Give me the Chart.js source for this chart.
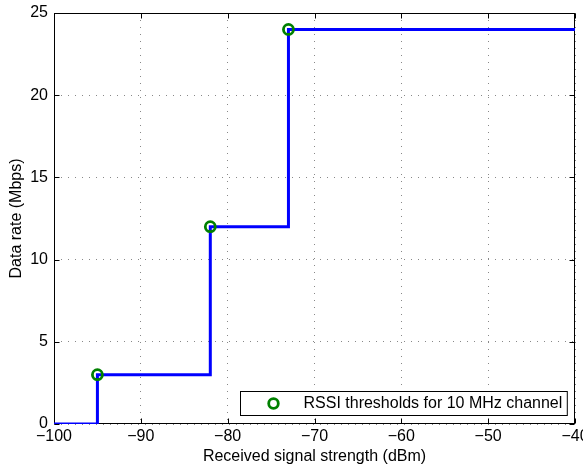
<!DOCTYPE html>
<html><head><meta charset="utf-8">
<script src="https://cdn.jsdelivr.net/npm/chart.js@4"></script>
<style>html,body{margin:0;padding:0;background:#fff}canvas{display:block}</style>
</head><body>
<canvas id="c" width="583" height="470"></canvas>
<script>
// Step curve of data rate vs RSSI
const rssiSteps = [-100, -95, -82, -73, -40];
const rateSteps = [0, 3, 12, 24, 24];
// RSSI threshold markers
const thresholdRSSI = [-95, -82, -73];
const thresholdRates = [3, 12, 24];
// axis ticks
const xTicks = [-100, -90, -80, -70, -60, -50, -40];
const yTicks = [0, 5, 10, 15, 20, 25];
const legendLabel = 'RSSI thresholds for 10 MHz channel';
const xTitle = 'Received signal strength (dBm)';
const yTitle = 'Data rate (Mbps)';

const FONT = "'Liberation Sans', Arial, Helvetica, sans-serif";
const FS = 16;
const minus = v => String(v).replace('-', '\u2212');

const framePlugin = {
  id: 'frame',
  beforeDatasetsDraw(chart) {
    const {ctx, chartArea: ca} = chart;
    const xs = chart.scales.x, ys = chart.scales.y;
    ctx.save();
    ctx.strokeStyle = '#000';
    ctx.lineWidth = 1;
    const L = Math.round(ca.left) + 0.5, R = Math.round(ca.right) - 0.5;
    const T = Math.round(ca.top) + 0.5, B = Math.round(ca.bottom) - 0.5;
    ctx.strokeRect(L, T, R - L, B - T);
    const tl = 5;
    ctx.beginPath();
    xTicks.forEach(v => {
      const px = Math.round(xs.getPixelForValue(v)) + 0.5;
      ctx.moveTo(px, B); ctx.lineTo(px, B - tl);
      ctx.moveTo(px, T); ctx.lineTo(px, T + tl);
    });
    yTicks.forEach(v => {
      const py = Math.round(ys.getPixelForValue(v)) + 0.5;
      ctx.moveTo(L, py); ctx.lineTo(L + tl, py);
      ctx.moveTo(R, py); ctx.lineTo(R - tl, py);
    });
    ctx.stroke();
    ctx.restore();
  },
  afterDraw(chart) {
    const {ctx, chartArea: ca} = chart;
    ctx.save();
    ctx.font = FS + 'px ' + FONT;
    const tw = ctx.measureText(legendLabel).width;
    const h = 24;
    const w = tw + 68;
    const x1 = Math.round(ca.right - 8 - w) + 0.5;
    const y1 = Math.round(ca.bottom - 9 - h) + 0.5;
    ctx.fillStyle = '#fff';
    ctx.fillRect(x1, y1, w, h);
    ctx.strokeStyle = '#000';
    ctx.lineWidth = 1;
    ctx.strokeRect(x1, y1, w, h);
    ctx.beginPath();
    ctx.arc(x1 + 33, y1 + h / 2, 4.8, 0, Math.PI * 2);
    ctx.strokeStyle = '#008000';
    ctx.lineWidth = 2.8;
    ctx.stroke();
    ctx.fillStyle = '#000';
    ctx.textBaseline = 'middle';
    ctx.textAlign = 'left';
    ctx.fillText(legendLabel, x1 + 63, y1 + h / 2 + 0.5);
    ctx.restore();
  }
};

new Chart(document.getElementById('c'), {
  type: 'line',
  data: {
    datasets: [
      {
        label: legendLabel,
        type: 'scatter',
        data: thresholdRSSI.map((x, i) => ({x, y: thresholdRates[i]})),
        showLine: false,
        pointRadius: 5,
        pointBorderWidth: 2.8,
        pointBorderColor: '#008000',
        pointBackgroundColor: 'rgba(0,0,0,0)',
        pointHoverRadius: 5
      },
      {
        label: 'rate',
        data: rssiSteps.map((x, i) => ({x, y: rateSteps[i]})),
        stepped: 'before',
        borderColor: '#0000ff',
        borderWidth: 3,
        pointRadius: 0,
        fill: false,
        tension: 0
      }
    ]
  },
  options: {
    responsive: false,
    animation: false,
    events: [],
    layout: {padding: {top: 13, right: 8, left: 0, bottom: 0}},
    plugins: {legend: {display: false}, tooltip: {enabled: false}},
    scales: {
      x: {
        type: 'linear', min: -100, max: -40,
        afterBuildTicks: s => { s.ticks = xTicks.map(v => ({value: v})); },
        afterFit: s => { s.height = 46; s.paddingLeft = 0; s.paddingRight = 0; },
        ticks: {font: {size: FS, family: FONT}, color: '#000', padding: 2.5, callback: minus, maxRotation: 0, autoSkip: false},
        grid: {color: '#888', lineWidth: 1, drawTicks: false},
        border: {display: false, dash: [1, 6]},
        title: {display: true, text: xTitle, font: {size: FS, family: FONT}, color: '#000', padding: {top: 0, bottom: 3.5}}
      },
      y: {
        min: 0, max: 25,
        afterBuildTicks: s => { s.ticks = yTicks.map(v => ({value: v})); },
        afterFit: s => { s.width = 54; s.paddingTop = 0; s.paddingBottom = 0; },
        ticks: {font: {size: FS, family: FONT}, color: '#000', padding: 6, autoSkip: false},
        grid: {color: '#888', lineWidth: 1, drawTicks: false},
        border: {display: false, dash: [1, 6]},
        title: {display: true, text: yTitle, font: {size: FS, family: FONT}, color: '#000', padding: {top: 6.5, bottom: 0}}
      }
    }
  },
  plugins: [framePlugin]
});
</script>
</body></html>
